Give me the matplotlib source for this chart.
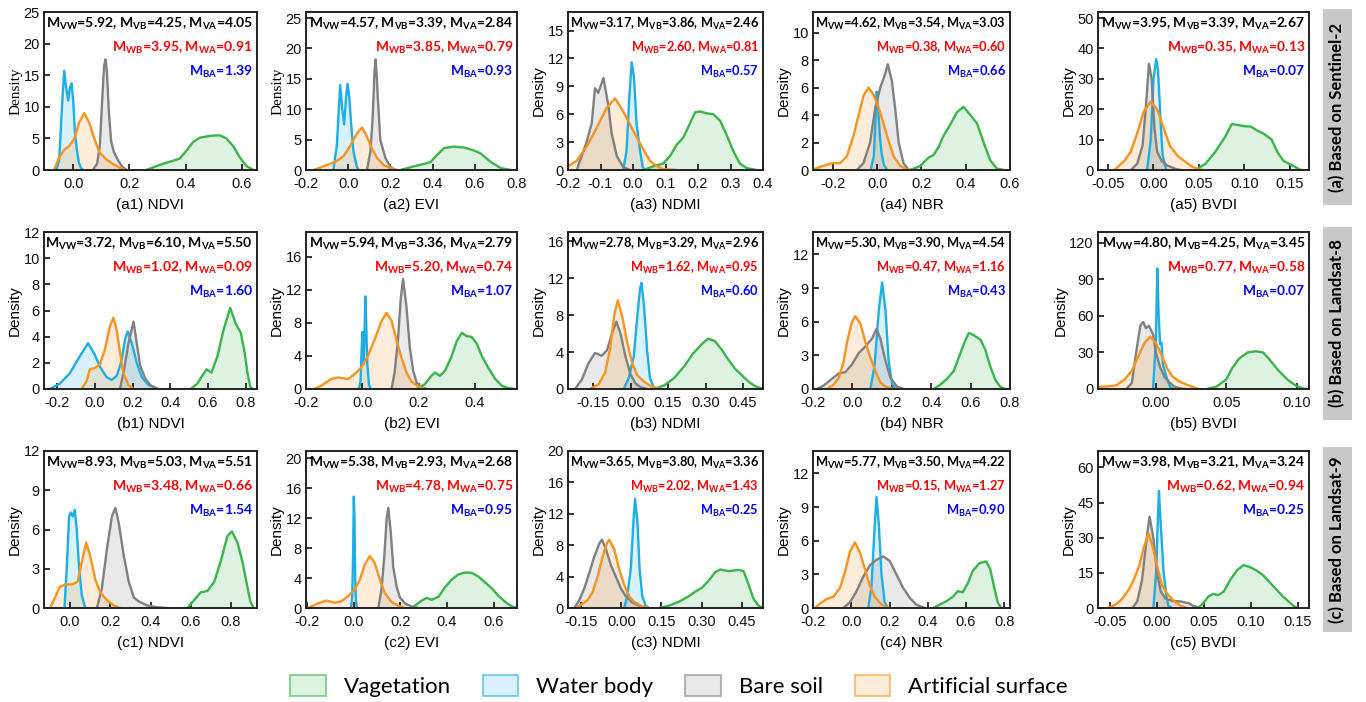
import matplotlib
matplotlib.use('Agg')
import matplotlib.pyplot as plt
from matplotlib.patches import Patch, Rectangle
from matplotlib.ticker import FixedLocator, FormatStrFormatter

plt.rcParams['font.family'] = ['Liberation Sans', 'DejaVu Sans']
plt.rcParams['axes.unicode_minus'] = False
plt.rcParams['mathtext.fontset'] = 'custom'
plt.rcParams['mathtext.rm'] = 'Lato:bold'
plt.rcParams['mathtext.it'] = 'Lato:bold'
plt.rcParams['mathtext.bf'] = 'Lato:bold'

# ---------------- data ----------------
classes = ['Vagetation', 'Water body', 'Bare soil', 'Artificial surface']
row_labels = ['(a) Based on Sentinel-2', '(b) Based on Landsat-8', '(c) Based on Landsat-9']
index_names = ['NDVI', 'EVI', 'NDMI', 'NBR', 'BVDI']

m_vw = ['5.92', '4.57', '3.17', '4.62', '3.95', '3.72', '5.94', '2.78', '5.30', '4.80', '8.93', '5.38', '3.65', '5.77', '3.98']
m_vb = ['4.25', '3.39', '3.86', '3.54', '3.39', '6.10', '3.36', '3.29', '3.90', '4.25', '5.03', '2.93', '3.80', '3.50', '3.21']
m_va = ['4.05', '2.84', '2.46', '3.03', '2.67', '5.50', '2.79', '2.96', '4.54', '3.45', '5.51', '2.68', '3.36', '4.22', '3.24']
m_wb = ['3.95', '3.85', '2.60', '0.38', '0.35', '1.02', '5.20', '1.62', '0.47', '0.77', '3.48', '4.78', '2.02', '0.15', '0.62']
m_wa = ['0.91', '0.79', '0.81', '0.60', '0.13', '0.09', '0.74', '0.95', '1.16', '0.58', '0.66', '0.75', '1.43', '1.27', '0.94']
m_ba = ['1.39', '0.93', '0.57', '0.66', '0.07', '1.60', '1.07', '0.60', '0.43', '0.07', '1.54', '0.95', '0.25', '0.90', '0.25']

# (a1) NDVI
a1_veg_x = [0.26, 0.307, 0.343, 0.379, 0.402, 0.426, 0.45, 0.486, 0.521, 0.545, 0.569, 0.593, 0.617, 0.64]
a1_veg_y = [0, 0.8, 1.3, 1.8, 3.0, 4.4, 5.1, 5.4, 5.5, 5.0, 3.8, 2.0, 0.6, 0.05]
a1_wat_x = [-0.06, -0.05, -0.04, -0.032, -0.025, -0.018, -0.012, -0.006, 0.0, 0.006, 0.012, 0.02, 0.028, 0.035]
a1_wat_y = [0, 1.5, 10, 15.7, 13, 11, 13, 13.7, 11, 6, 3.5, 1.2, 0.3, 0]
a1_bar_x = [0.07, 0.085, 0.095, 0.103, 0.11, 0.115, 0.12, 0.127, 0.135, 0.145, 0.16, 0.175, 0.19]
a1_bar_y = [0, 1, 4, 11, 16.5, 17.5, 15.5, 9, 4.5, 2.8, 1.5, 0.5, 0]
a1_art_x = [-0.068, -0.05, -0.032, -0.014, 0.004, 0.021, 0.039, 0.057, 0.075, 0.093, 0.117, 0.14, 0.164, 0.188]
a1_art_y = [0, 2, 3.2, 3.8, 5, 7.5, 9, 7.5, 5, 2.8, 1.7, 1.0, 0.4, 0]

# (a2) EVI
a2_veg_x = [0.248, 0.311, 0.359, 0.39, 0.422, 0.454, 0.502, 0.549, 0.597, 0.629, 0.676, 0.724, 0.771]
a2_veg_y = [0, 0.6, 1.0, 1.3, 2.5, 3.6, 3.85, 3.7, 3.2, 2.7, 1.3, 0.3, 0]
a2_wat_x = [-0.07, -0.054, -0.038, -0.028, -0.019, -0.01, -0.003, 0.005, 0.013, 0.025, 0.041, 0.05]
a2_wat_y = [0, 4, 14.0, 10, 7.5, 12, 14.2, 12, 8, 3, 0.5, 0]
a2_bar_x = [0.089, 0.105, 0.115, 0.12, 0.125, 0.13, 0.136, 0.14, 0.152, 0.176, 0.2, 0.224]
a2_bar_y = [0, 3, 8, 12, 16.5, 18.2, 15, 12, 5, 2, 0.5, 0]
a2_art_x = [-0.165, -0.133, -0.086, -0.054, -0.022, 0.01, 0.041, 0.065, 0.089, 0.113, 0.137, 0.168, 0.2, 0.232]
a2_art_y = [0, 0.4, 1.0, 1.5, 2.3, 4, 6, 7.0, 5.5, 3.5, 2, 0.8, 0.3, 0]

# (a3) NDMI
a3_veg_x = [0.032, 0.063, 0.093, 0.114, 0.134, 0.155, 0.175, 0.191, 0.206, 0.227, 0.247, 0.268, 0.288, 0.309, 0.329, 0.35, 0.38]
a3_veg_y = [0, 0.4, 0.7, 1.5, 2.7, 3.5, 5.0, 6.2, 6.3, 6.1, 6.0, 5.3, 3.8, 2.0, 0.7, 0.2, 0]
a3_wat_x = [-0.03, -0.02, -0.011, -0.004, 0.003, 0.011, 0.022, 0.03, 0.037]
a3_wat_y = [0, 2, 8, 11.6, 10, 5, 2, 0.3, 0]
a3_bar_x = [-0.173, -0.158, -0.143, -0.127, -0.117, -0.107, -0.091, -0.076, -0.066, -0.05, -0.03, -0.009]
a3_bar_y = [0, 1.5, 3, 5, 8.8, 8.3, 9.9, 7, 4, 1.5, 0.3, 0]
a3_art_x = [-0.21, -0.2, -0.173, -0.143, -0.112, -0.081, -0.055, -0.03, 0.001, 0.032, 0.052, 0.073, 0.093, 0.134]
a3_art_y = [0.2, 0.4, 1.0, 2.5, 4.5, 6.7, 7.7, 6.3, 4.2, 2.2, 1.0, 0.4, 0.1, 0]

# (a4) NBR
a4_veg_x = [0.149, 0.195, 0.232, 0.255, 0.278, 0.3, 0.33, 0.36, 0.39, 0.421, 0.451, 0.481, 0.511, 0.541, 0.572]
a4_veg_y = [0, 0.3, 0.9, 1.1, 1.7, 2.5, 3.3, 4.2, 4.6, 4.0, 3.4, 2.0, 0.7, 0.1, 0]
a4_wat_x = [-0.03, -0.015, -0.007, -0.002, 0.004, 0.012, 0.02, 0.03, 0.045]
a4_wat_y = [0, 1, 4, 5.7, 4.5, 2.5, 1.2, 0.4, 0]
a4_bar_x = [-0.092, -0.062, -0.032, -0.009, 0.014, 0.036, 0.048, 0.066, 0.081, 0.097, 0.119, 0.142]
a4_bar_y = [0, 0.5, 2, 4.5, 6.0, 7.0, 7.7, 6.5, 4.5, 2.0, 0.5, 0]
a4_art_x = [-0.3, -0.288, -0.243, -0.205, -0.167, -0.137, -0.107, -0.084, -0.062, -0.039, -0.017, 0.014, 0.044, 0.074, 0.104, 0.134, 0.164]
a4_art_y = [0.02, 0.05, 0.3, 0.5, 0.5, 1.0, 2.5, 4.0, 5.4, 6.0, 5.5, 4.2, 2.5, 1.0, 0.3, 0.05, 0]

# (a5) BVDI
a5_veg_x = [0.046, 0.057, 0.068, 0.079, 0.086, 0.093, 0.1, 0.107, 0.114, 0.121, 0.13, 0.136, 0.143, 0.154, 0.161, 0.164]
a5_veg_y = [0, 2, 6, 11, 15.1, 14.8, 14.4, 14.3, 13, 12, 10, 6, 3, 1.3, 0.1, 0]
a5_wat_x = [-0.007, -0.003, 0.0, 0.003, 0.005, 0.008, 0.01, 0.014]
a5_wat_y = [0, 10, 30, 36.5, 33, 15, 5, 0]
a5_bar_x = [-0.025, -0.018, -0.012, -0.008, -0.005, -0.002, 0.001, 0.004, 0.009, 0.015, 0.025, 0.03]
a5_bar_y = [0, 2, 8, 22, 35, 30, 14, 6, 3, 1.5, 0.3, 0]
a5_art_x = [-0.043, -0.032, -0.025, -0.018, -0.011, -0.003, 0.004, 0.011, 0.018, 0.027, 0.036, 0.043, 0.05, 0.054]
a5_art_y = [0, 3, 6, 12, 19, 22.5, 20, 14, 8, 4.5, 2.5, 1, 0.2, 0]

# (b1) NDVI
b1_veg_x = [0.507, 0.543, 0.569, 0.593, 0.618, 0.65, 0.682, 0.718, 0.747, 0.774, 0.792, 0.81, 0.824, 0.836]
b1_veg_y = [0, 0.4, 1.0, 1.5, 1.25, 2.5, 4.5, 6.2, 5.0, 4.3, 3.0, 1.2, 0.2, 0]
b1_wat_x = [-0.24, -0.187, -0.133, -0.08, -0.036, 0.0, 0.027, 0.062, 0.089, 0.116, 0.142, 0.16, 0.174, 0.196, 0.222, 0.249, 0.285, 0.338]
b1_wat_y = [0, 0.4, 1.2, 2.5, 3.5, 2.6, 1.7, 0.9, 0.7, 1.0, 2.2, 3.8, 4.4, 3.5, 2.0, 0.9, 0.3, 0]
b1_bar_x = [0.133, 0.155, 0.178, 0.205, 0.222, 0.24, 0.267, 0.294, 0.33]
b1_bar_y = [0, 1.5, 3.5, 5.15, 3.5, 1.8, 0.8, 0.3, 0]
b1_art_x = [-0.071, -0.044, -0.027, 0.0, 0.027, 0.053, 0.08, 0.098, 0.116, 0.133, 0.151, 0.178, 0.205]
b1_art_y = [0, 0.6, 1.5, 1.6, 1.9, 3.0, 4.8, 5.45, 4.5, 2.8, 1.2, 0.3, 0]

# (b2) EVI
b2_veg_x = [0.193, 0.223, 0.246, 0.258, 0.276, 0.294, 0.318, 0.336, 0.354, 0.371, 0.389, 0.407, 0.425, 0.449, 0.473, 0.496, 0.52, 0.544]
b2_veg_y = [0, 0.6, 1.6, 2.0, 1.6, 2.2, 4.0, 5.8, 6.8, 6.4, 6.3, 5.5, 4.0, 2.5, 1.2, 0.4, 0.1, 0]
b2_wat_x = [-0.012, -0.006, -0.002, 0.001, 0.004, 0.007, 0.011, 0.014, 0.018, 0.024, 0.03]
b2_wat_y = [0, 1, 5, 6.9, 3, 5, 11.2, 8, 3, 0.5, 0]
b2_bar_x = [0.104, 0.115, 0.127, 0.137, 0.145, 0.157, 0.169, 0.181, 0.193, 0.211, 0.229]
b2_bar_y = [0, 2, 6, 11, 13.3, 10, 5, 2.2, 0.8, 0.2, 0]
b2_art_x = [-0.17, -0.146, -0.111, -0.087, -0.051, -0.027, -0.004, 0.02, 0.044, 0.068, 0.086, 0.104, 0.121, 0.139, 0.157, 0.175, 0.199, 0.223]
b2_art_y = [0, 0.4, 1.2, 1.4, 1.2, 1.8, 2.6, 4.0, 6.0, 8.2, 9.2, 8.3, 6.0, 3.8, 2.0, 0.9, 0.3, 0]

# (b3) NDMI
b3_veg_x = [0.094, 0.135, 0.175, 0.216, 0.249, 0.283, 0.31, 0.337, 0.364, 0.391, 0.418, 0.445, 0.472, 0.499, 0.526]
b3_veg_y = [0, 0.4, 1.2, 2.5, 3.8, 4.8, 5.45, 5.2, 4.3, 3.2, 2.2, 1.5, 0.8, 0.3, 0.05]
b3_wat_x = [-0.027, -0.007, 0.013, 0.027, 0.038, 0.044, 0.054, 0.067, 0.078, 0.092, 0.108]
b3_wat_y = [0, 1.2, 3.5, 7.8, 10.8, 11.5, 9.0, 4.0, 1.2, 0.2, 0]
b3_bar_x = [-0.222, -0.195, -0.168, -0.142, -0.115, -0.094, -0.074, -0.057, -0.04, -0.02, 0.0, 0.02, 0.04, 0.067]
b3_bar_y = [0, 1, 2.8, 3.9, 3.6, 4.2, 6.0, 7.3, 6.0, 3.5, 1.6, 0.6, 0.2, 0]
b3_art_x = [-0.162, -0.128, -0.101, -0.081, -0.065, -0.051, -0.034, -0.013, 0.007, 0.027, 0.054, 0.081, 0.121]
b3_art_y = [0, 0.5, 1.8, 4.5, 8.0, 9.6, 8.0, 5.0, 2.8, 1.5, 0.8, 0.3, 0]

# (b4) NBR
b4_veg_x = [0.413, 0.447, 0.48, 0.514, 0.54, 0.565, 0.591, 0.616, 0.65, 0.675, 0.7, 0.726, 0.751, 0.777]
b4_veg_y = [0, 0.4, 0.9, 1.6, 2.8, 4.0, 5.0, 4.8, 4.4, 3.5, 2.0, 0.8, 0.2, 0]
b4_wat_x = [0.091, 0.112, 0.134, 0.151, 0.168, 0.184, 0.201, 0.218]
b4_wat_y = [0, 2, 7, 9.5, 7, 2.5, 0.5, 0]
b4_bar_x = [-0.18, -0.146, -0.112, -0.069, -0.036, -0.002, 0.032, 0.066, 0.1, 0.122, 0.142, 0.168, 0.193, 0.227, 0.26]
b4_bar_y = [0, 0.3, 0.8, 1.4, 1.5, 2.2, 3.2, 3.8, 4.5, 5.35, 4.5, 2.5, 1.0, 0.2, 0]
b4_art_x = [-0.129, -0.095, -0.069, -0.044, -0.027, -0.002, 0.015, 0.041, 0.066, 0.091, 0.117, 0.142, 0.168, 0.21]
b4_art_y = [0, 0.4, 1.0, 2.5, 4.2, 6.0, 6.5, 5.8, 4.2, 2.8, 1.6, 0.6, 0.2, 0]

# (b5) BVDI
b5_veg_x = [0.036, 0.043, 0.05, 0.054, 0.059, 0.065, 0.071, 0.076, 0.08, 0.087, 0.094, 0.099, 0.104, 0.107]
b5_veg_y = [0, 2, 8, 17, 25, 30, 31, 30, 25, 15, 7, 3, 0.5, 0]
b5_wat_x = [-0.002, 0.0, 0.001, 0.002, 0.003, 0.004, 0.005, 0.008, 0.01, 0.012]
b5_wat_y = [0, 40, 99, 60, 37, 38, 20, 8, 2, 0]
b5_bar_x = [-0.021, -0.017, -0.014, -0.011, -0.009, -0.007, -0.005, -0.002, 0.0, 0.003, 0.006, 0.01, 0.013, 0.017, 0.022]
b5_bar_y = [0, 5, 30, 52, 55, 50, 52, 45, 30, 18, 10, 5, 2, 0.5, 0]
b5_art_x = [-0.045, -0.035, -0.028, -0.022, -0.017, -0.012, -0.008, -0.004, 0.0, 0.004, 0.008, 0.012, 0.017, 0.023, 0.029, 0.031]
b5_art_y = [1.5, 2, 3, 8, 15, 28, 38, 43, 38, 28, 17, 10, 6, 3, 0.5, 0]

# (c1) NDVI
c1_veg_x = [0.583, 0.617, 0.65, 0.683, 0.717, 0.75, 0.783, 0.805, 0.833, 0.858, 0.88, 0.897, 0.913]
c1_veg_y = [0, 0.6, 1.2, 1.3, 2.0, 3.6, 5.5, 5.85, 5.0, 3.5, 1.8, 0.5, 0]
c1_wat_x = [-0.028, -0.017, -0.005, 0.003, 0.013, 0.023, 0.033, 0.045, 0.058, 0.075]
c1_wat_y = [0, 3, 7.0, 7.3, 7.0, 7.5, 6, 3, 1.0, 0]
c1_bar_x = [0.133, 0.158, 0.183, 0.208, 0.225, 0.242, 0.267, 0.292, 0.317, 0.342, 0.383, 0.433, 0.483]
c1_bar_y = [0, 1.5, 4.5, 7.0, 7.65, 6.5, 4.0, 2.0, 0.8, 0.5, 0.2, 0.05, 0]
c1_art_x = [-0.1, -0.075, -0.053, -0.025, 0.008, 0.037, 0.058, 0.08, 0.1, 0.125, 0.15, 0.183, 0.217, 0.25]
c1_art_y = [0, 0.8, 1.6, 1.8, 1.8, 2.0, 3.5, 5.0, 4.0, 2.2, 1.2, 0.6, 0.2, 0]

# (c2) EVI
c2_veg_x = [0.248, 0.27, 0.291, 0.313, 0.334, 0.363, 0.392, 0.42, 0.449, 0.478, 0.506, 0.535, 0.564, 0.593, 0.621, 0.65, 0.679, 0.7]
c2_veg_y = [0, 0.5, 1.0, 1.35, 1.1, 1.5, 2.8, 3.8, 4.5, 4.75, 4.7, 4.2, 3.4, 2.6, 1.6, 0.8, 0.2, 0]
c2_wat_x = [-0.012, -0.007, -0.003, 0.0, 0.003, 0.006, 0.009, 0.014]
c2_wat_y = [0, 1.5, 7, 14.9, 12, 4, 1, 0]
c2_bar_x = [0.105, 0.119, 0.131, 0.141, 0.148, 0.159, 0.169, 0.184, 0.198, 0.22, 0.248, 0.277]
c2_bar_y = [0, 2.5, 7, 12, 13.4, 10, 5.5, 2.8, 1.4, 0.6, 0.2, 0]
c2_art_x = [-0.197, -0.154, -0.118, -0.082, -0.053, -0.024, 0.004, 0.026, 0.047, 0.069, 0.09, 0.112, 0.133, 0.162, 0.191, 0.22]
c2_art_y = [0, 0.6, 1.0, 0.7, 0.9, 1.6, 2.5, 3.8, 5.8, 6.95, 6.0, 3.8, 2.0, 0.8, 0.3, 0]

# (c3) NDMI
c3_veg_x = [0.14, 0.178, 0.215, 0.252, 0.277, 0.302, 0.327, 0.352, 0.37, 0.401, 0.439, 0.457, 0.476, 0.494, 0.513, 0.532]
c3_veg_y = [0, 0.3, 0.8, 1.5, 2.1, 2.6, 3.5, 4.6, 4.9, 4.7, 4.85, 4.7, 3.0, 1.2, 0.3, 0]
c3_wat_x = [0.01, 0.022, 0.035, 0.045, 0.051, 0.06, 0.068, 0.078, 0.091, 0.103]
c3_wat_y = [0, 1.5, 5, 11, 13.9, 11, 5, 1.5, 0.3, 0]
c3_bar_x = [-0.176, -0.158, -0.139, -0.12, -0.102, -0.083, -0.073, -0.058, -0.04, -0.021, -0.002, 0.016, 0.041, 0.066, 0.091]
c3_bar_y = [0, 1.0, 2.5, 4.5, 6.5, 8.2, 8.7, 7.5, 5.5, 4.0, 2.5, 1.5, 0.7, 0.3, 0]
c3_art_x = [-0.17, -0.152, -0.127, -0.108, -0.089, -0.071, -0.055, -0.046, -0.027, -0.009, 0.01, 0.029, 0.047, 0.072, 0.103]
c3_art_y = [0, 0.4, 1.0, 2.0, 4.0, 6.5, 8.2, 8.7, 7.5, 5.0, 3.0, 1.5, 0.8, 0.3, 0]

# (c4) NBR
c4_veg_x = [0.427, 0.462, 0.497, 0.531, 0.557, 0.583, 0.609, 0.635, 0.67, 0.705, 0.726, 0.748, 0.766, 0.783]
c4_veg_y = [0, 0.3, 0.6, 1.0, 1.5, 1.4, 2.2, 3.3, 4.0, 4.15, 3.5, 1.8, 0.5, 0]
c4_wat_x = [0.089, 0.106, 0.12, 0.132, 0.144, 0.158, 0.175, 0.193]
c4_wat_y = [0, 2, 6.5, 9.9, 7.5, 3, 0.5, 0]
c4_bar_x = [-0.042, -0.007, 0.028, 0.063, 0.097, 0.132, 0.167, 0.201, 0.236, 0.271, 0.306, 0.34, 0.384]
c4_bar_y = [0, 0.5, 1.5, 2.8, 3.8, 4.3, 4.6, 4.2, 3.0, 1.8, 0.9, 0.3, 0]
c4_art_x = [-0.19, -0.163, -0.128, -0.094, -0.059, -0.033, -0.007, 0.019, 0.045, 0.071, 0.097, 0.123, 0.158, 0.201]
c4_art_y = [0, 0.4, 0.8, 1.0, 1.8, 3.2, 5.0, 5.85, 5.0, 3.5, 2.0, 1.0, 0.3, 0]

# (c5) BVDI
c5_veg_x = [0.044, 0.049, 0.055, 0.06, 0.065, 0.071, 0.078, 0.085, 0.092, 0.099, 0.106, 0.113, 0.12, 0.127, 0.134, 0.141, 0.146, 0.15]
c5_veg_y = [0, 2, 5, 6.0, 5.5, 7, 12, 16, 18.3, 17.5, 16, 14, 11, 8, 5, 2.5, 0.8, 0]
c5_wat_x = [-0.004, -0.001, 0.001, 0.002, 0.004, 0.007, 0.01, 0.012, 0.016]
c5_wat_y = [0, 15, 40, 50, 35, 15, 5, 1, 0]
c5_bar_x = [-0.026, -0.021, -0.016, -0.011, -0.008, -0.004, 0.0, 0.004, 0.009, 0.016, 0.025, 0.034, 0.039, 0.046]
c5_bar_y = [0, 3, 12, 30, 39, 30, 15, 7, 4, 3, 2.8, 2.0, 0.8, 0]
c5_art_x = [-0.053, -0.044, -0.037, -0.03, -0.025, -0.019, -0.014, -0.009, -0.004, 0.0, 0.005, 0.011, 0.018, 0.025, 0.032]
c5_art_y = [0, 1.5, 4, 8, 12, 18, 26, 32, 25, 18, 10, 6, 3, 1, 0]

# ---------------- styling / layout ----------------
line_colors = ['#3ab54a', '#1eaee6', '#808080', '#f7931e']
W, H = 1366, 702
fig = plt.figure(figsize=(W / 100, H / 100), dpi=100)

col_l = [44, 306, 568, 813, 1098]
col_r = [257, 517, 763, 1010, 1309]
row_t = [12, 232, 451]
row_b = [170, 389, 608]

panels = [
    ('a1', [(a1_veg_x, a1_veg_y), (a1_wat_x, a1_wat_y), (a1_bar_x, a1_bar_y), (a1_art_x, a1_art_y)],
     (-0.104, 0.654), [0, 0.2, 0.4, 0.6], '%.1f', (0, 25), [0, 5, 10, 15, 20, 25]),
    ('a2', [(a2_veg_x, a2_veg_y), (a2_wat_x, a2_wat_y), (a2_bar_x, a2_bar_y), (a2_art_x, a2_art_y)],
     (-0.2, 0.8), [-0.2, 0, 0.2, 0.4, 0.6, 0.8], '%.1f', (0, 26), [0, 5, 10, 15, 20, 25]),
    ('a3', [(a3_veg_x, a3_veg_y), (a3_wat_x, a3_wat_y), (a3_bar_x, a3_bar_y), (a3_art_x, a3_art_y)],
     (-0.2, 0.4), [-0.2, -0.1, 0, 0.1, 0.2, 0.3, 0.4], '%.1f', (0, 17), [0, 3, 6, 9, 12, 15]),
    ('a4', [(a4_veg_x, a4_veg_y), (a4_wat_x, a4_wat_y), (a4_bar_x, a4_bar_y), (a4_art_x, a4_art_y)],
     (-0.29, 0.6), [-0.2, 0, 0.2, 0.4, 0.6], '%.1f', (0, 11.5), [0, 2, 4, 6, 8, 10]),
    ('a5', [(a5_veg_x, a5_veg_y), (a5_wat_x, a5_wat_y), (a5_bar_x, a5_bar_y), (a5_art_x, a5_art_y)],
     (-0.061, 0.171), [-0.05, 0, 0.05, 0.1, 0.15], '%.2f', (0, 52), [0, 10, 20, 30, 40, 50]),
    ('b1', [(b1_veg_x, b1_veg_y), (b1_wat_x, b1_wat_y), (b1_bar_x, b1_bar_y), (b1_art_x, b1_art_y)],
     (-0.27, 0.86), [-0.2, 0, 0.2, 0.4, 0.6, 0.8], '%.1f', (0, 12), [0, 2, 4, 6, 8, 10, 12]),
    ('b2', [(b2_veg_x, b2_veg_y), (b2_wat_x, b2_wat_y), (b2_bar_x, b2_bar_y), (b2_art_x, b2_art_y)],
     (-0.2, 0.55), [-0.2, 0, 0.2, 0.4], '%.1f', (0, 19), [0, 4, 8, 12, 16]),
    ('b3', [(b3_veg_x, b3_veg_y), (b3_wat_x, b3_wat_y), (b3_bar_x, b3_bar_y), (b3_art_x, b3_art_y)],
     (-0.25, 0.53), [-0.15, 0, 0.15, 0.3, 0.45], '%.2f', (0, 17), [0, 4, 8, 12, 16]),
    ('b4', [(b4_veg_x, b4_veg_y), (b4_wat_x, b4_wat_y), (b4_bar_x, b4_bar_y), (b4_art_x, b4_art_y)],
     (-0.2, 0.8), [-0.2, 0, 0.2, 0.4, 0.6, 0.8], '%.1f', (0, 14), [0, 3, 6, 9, 12]),
    ('b5', [(b5_veg_x, b5_veg_y), (b5_wat_x, b5_wat_y), (b5_bar_x, b5_bar_y), (b5_art_x, b5_art_y)],
     (-0.041, 0.1085), [0, 0.05, 0.1], '%.2f', (0, 129), [0, 30, 60, 90, 120]),
    ('c1', [(c1_veg_x, c1_veg_y), (c1_wat_x, c1_wat_y), (c1_bar_x, c1_bar_y), (c1_art_x, c1_art_y)],
     (-0.13, 0.93), [0, 0.2, 0.4, 0.6, 0.8], '%.1f', (0, 12), [0, 3, 6, 9, 12]),
    ('c2', [(c2_veg_x, c2_veg_y), (c2_wat_x, c2_wat_y), (c2_bar_x, c2_bar_y), (c2_art_x, c2_art_y)],
     (-0.205, 0.70), [-0.2, 0, 0.2, 0.4, 0.6], '%.1f', (0, 21), [0, 4, 8, 12, 16, 20]),
    ('c3', [(c3_veg_x, c3_veg_y), (c3_wat_x, c3_wat_y), (c3_bar_x, c3_bar_y), (c3_art_x, c3_art_y)],
     (-0.2, 0.53), [-0.15, 0, 0.15, 0.3, 0.45], '%.2f', (0, 20), [0, 4, 8, 12, 16, 20]),
    ('c4', [(c4_veg_x, c4_veg_y), (c4_wat_x, c4_wat_y), (c4_bar_x, c4_bar_y), (c4_art_x, c4_art_y)],
     (-0.2, 0.83), [-0.2, 0, 0.2, 0.4, 0.6, 0.8], '%.1f', (0, 14), [0, 3, 6, 9, 12]),
    ('c5', [(c5_veg_x, c5_veg_y), (c5_wat_x, c5_wat_y), (c5_bar_x, c5_bar_y), (c5_art_x, c5_art_y)],
     (-0.063, 0.162), [-0.05, 0, 0.05, 0.1, 0.15], '%.2f', (0, 67), [0, 15, 30, 45, 60]),
]

for k, (tag, series, xlim, xt, xfmt, ylim, yt) in enumerate(panels):
    r, c = divmod(k, 5)
    l, rr, t, b = col_l[c], col_r[c], row_t[r], row_b[r]
    ax = fig.add_axes([l / W, 1 - b / H, (rr - l) / W, (b - t) / H])
    for (xs, ys), col in zip(series, line_colors):
        ax.fill_between(xs, 0, ys, color=col, alpha=0.17, linewidth=0)
        ax.plot(xs, ys, color=col, lw=1.7, solid_capstyle='round')
    ax.set_xlim(*xlim)
    ax.set_ylim(*ylim)
    ax.xaxis.set_major_locator(FixedLocator(xt))
    ax.xaxis.set_major_formatter(FormatStrFormatter(xfmt))
    ax.yaxis.set_major_locator(FixedLocator(yt))
    ax.tick_params(direction='in', length=4, width=1.2, labelsize=10.5, pad=2, colors='#111111')
    ax.tick_params(axis='x', pad=5)
    ax.tick_params(axis='y', pad=3)
    for s in ax.spines.values():
        s.set_linewidth(1.4)
        s.set_color('#222222')
    if tag in ('a1', 'a2'):
        ax.set_ylabel('Density', fontsize=11, family=['Liberation Serif'], labelpad=1)
    else:
        ax.set_ylabel('Density', fontsize=11, labelpad=1)
    ax.text(0.5, -(35) / (b - t), '(%s) %s' % (tag, index_names[c]), transform=ax.transAxes,
            ha='center', va='center', fontsize=11)
    # statistics text (size follows the panel width, as in the original)
    px = 1.0 - 4 / (rr - l)
    fs = 10.0 * ((rr - l) - 7) / 205.0
    ax.text(px, 1 - 12 / (b - t),
            r'$\mathrm{M}_{\mathrm{VW}}$=%s, $\mathrm{M}_{\mathrm{VB}}$=%s, $\mathrm{M}_{\mathrm{VA}}$=%s' % (m_vw[k], m_vb[k], m_va[k]),
            transform=ax.transAxes, ha='right', va='center', fontsize=fs, family='Lato', weight='bold', color='black')
    ax.text(px, 1 - 36 / (b - t),
            r'$\mathrm{M}_{\mathrm{WB}}$=%s, $\mathrm{M}_{\mathrm{WA}}$=%s' % (m_wb[k], m_wa[k]),
            transform=ax.transAxes, ha='right', va='center', fontsize=fs, family='Lato', weight='bold', color='#ff0000')
    ax.text(px, 1 - 60 / (b - t),
            r'$\mathrm{M}_{\mathrm{BA}}$=%s' % m_ba[k],
            transform=ax.transAxes, ha='right', va='center', fontsize=fs, family='Lato', weight='bold', color='#0000ff')

# row labels
box_t = [9, 227, 447]
box_b = [205, 420, 632]
for r in range(3):
    x0, x1 = 1323, 1352
    fig.patches.append(Rectangle((x0 / W, 1 - box_b[r] / H), (x1 - x0) / W, (box_b[r] - box_t[r]) / H,
                                 transform=fig.transFigure, facecolor='#c8c8c8', edgecolor='none'))
    fig.text((x0 + x1) / 2 / W, 1 - (box_t[r] + box_b[r]) / 2 / H, row_labels[r], rotation=90,
             ha='center', va='center', fontsize=12, family='Lato', weight='bold', color='black')

handles = [Patch(facecolor=matplotlib.colors.to_rgba(c, 0.17), edgecolor=matplotlib.colors.to_rgba(c, 0.55), linewidth=1.5)
           for c in line_colors]
fig.legend(handles, classes, loc='center', bbox_to_anchor=(679 / W, 1 - 686 / H), ncol=4, frameon=False,
           prop={'family': 'Lato', 'size': 16}, handlelength=1.6, handleheight=1.1, columnspacing=1.45, handletextpad=0.8)

fig.savefig('out.png', dpi=100)
